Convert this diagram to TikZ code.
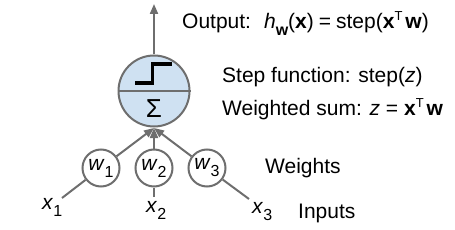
\documentclass[tikz,border=0pt]{standalone}
\usepackage{fontspec}
\setmainfont{Liberation Sans}
\usetikzlibrary{arrows.meta}
\definecolor{linegray}{RGB}{110,110,110}
\definecolor{cellblue}{RGB}{207,225,242}
\newcommand{\subtxt}[1]{\raisebox{-7pt}{\fontsize{16}{16}\selectfont #1}}
\newcommand{\suptxt}[1]{\raisebox{8pt}{\fontsize{13}{13}\selectfont #1}}
\begin{document}
\begin{tikzpicture}[x=1pt,y=-1pt,
  conn/.style={draw=linegray,line width=2pt},
  arr/.style={conn,-{Triangle[width=8pt,length=10pt]}},
  wnode/.style={circle,draw=linegray,line width=2pt,fill=white,minimum size=37pt,inner sep=0pt,font=\fontsize{21}{22}\selectfont},
  lbl/.style={anchor=base west,inner sep=0pt,font=\fontsize{21}{23}\selectfont}]
\useasboundingbox (0,0) rectangle (455,230);
% neuron
\node[circle,draw=linegray,line width=2pt,fill=cellblue,minimum size=71pt,inner sep=0pt] (neuron) at (154,91) {};
\draw[conn] (neuron.west) -- (neuron.east);
\draw[black,line width=3.2pt] (135,83) -- (152.5,83) -- (152.5,64) -- (172,64);
\node[inner sep=0pt,font=\fontsize{26}{28}\selectfont] (sigma) at (154,109) {Σ};
% output arrow
\coordinate (outtip) at (154,4);
\draw[arr] (neuron.north) -- (outtip);
% weights
\node[wnode] (w1) at (101,168) {\textit{w}\subtxt{1}};
\node[wnode] (w2) at (154,168) {\textit{w}\subtxt{2}};
\node[wnode] (w3) at (207,168) {\textit{w}\subtxt{3}};
\coordinate (tip) at (154,128);
\draw[arr] (w1) -- (tip);
\draw[arr] (w2) -- (tip);
\draw[arr] (w3) -- (tip);
% inputs
\coordinate (in1) at (62,198);
\coordinate (in2) at (154,197);
\coordinate (in3) at (249,199);
\draw[conn] (in1) -- (w1);
\draw[conn] (in2) -- (w2);
\draw[conn] (in3) -- (w3);
\node[lbl] (x1) at (42,209) {\textit{x}\subtxt{1}};
\node[lbl] (x2) at (146,212) {\textit{x}\subtxt{2}};
\node[lbl] (x3) at (252,213) {\textit{x}\subtxt{3}};
% texts
\node[lbl] (output) at (182,29) {Output:\hspace{13pt}\textit{h}\subtxt{\textbf{w}}(\textbf{x})\hspace{5pt}=\hspace{5pt}step(\textbf{x}\suptxt{T}\hspace{3pt}\textbf{w})};
\node[lbl] (stepf) at (222,82) {Step function: step(\textit{z})};
\node[lbl] (wsum) at (222,115) {Weighted sum: \textit{z} = \textbf{x}\suptxt{T}\hspace{3pt}\textbf{w}};
\node[lbl] (weights) at (265,173) {Weights};
\node[lbl] (inputs) at (298,218) {Inputs};
\end{tikzpicture}
\end{document}
